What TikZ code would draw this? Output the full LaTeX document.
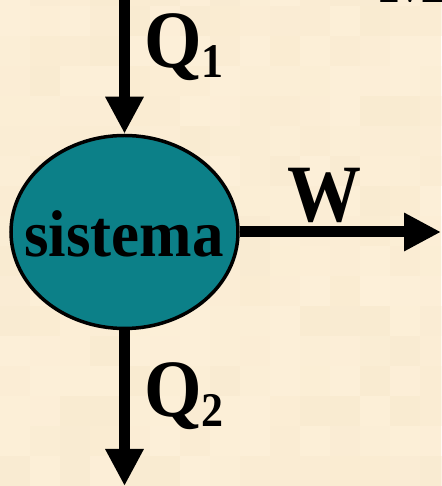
\documentclass[tikz,border=0pt]{standalone}
\usepackage{fontspec}
\setmainfont{Liberation Serif}
\usetikzlibrary{arrows.meta,shapes.geometric}
\definecolor{paper}{RGB}{253,240,217}
\definecolor{tile}{RGB}{247,232,204}
\definecolor{sysfill}{RGB}{12,128,136}
\newcommand{\biglbl}[2]{\scalebox{1}[1.1]{\fontsize{74}{74}\selectfont\bfseries #1\raisebox{-9pt}{\fontsize{44}{44}\selectfont #2}}}
\tikzset{
  sysnode/.style={ellipse, draw=black, line width=3.5pt, fill=sysfill,
    minimum width=227pt, minimum height=193pt, inner sep=0pt},
  flow/.style={line width=11pt, -{Triangle[length=37pt,width=36pt]}},
  lbl/.style={anchor=base west, inner sep=0pt}
}
\begin{document}
\begin{tikzpicture}[x=1pt, y=1pt]
  \useasboundingbox (0,0) rectangle (441,486);
  \fill[paper] (0,0) rectangle (441,486);
  % faint tiles of the paper
  \pgfmathsetseed{7}
  \foreach \i in {0,...,14}{
    \foreach \j in {0,...,16}{
      \pgfmathsetmacro{\op}{0.6*rnd}
      \fill[tile, opacity=\op] (\i*30,\j*30) rectangle ++(30,30);
    }
  }
  \node[sysnode] (sys) at (124.5,254) {};
  \node[inner sep=0pt, anchor=base] (systxt) at (124,229)
    {\scalebox{1}[1.05]{\fontsize{63}{63}\selectfont\bfseries sistema}};
  \coordinate (qin) at (124.5,486);
  \coordinate (qout) at (124.5,0);
  \coordinate (wout) at (441,254);
  \draw[flow] (qin) -- (sys);
  \draw[flow] (sys) -- (qout);
  \draw[flow] (sys) -- (wout);
  \node[lbl] (q1) at (144,418) {\biglbl{Q}{1}};
  \node[lbl] (q2) at (144,69) {\biglbl{Q}{2}};
  \node[lbl] (w) at (287,264) {\biglbl{W}{}};
  \node[lbl] (m) at (379,483) {\biglbl{M}{}};
\end{tikzpicture}
\end{document}
